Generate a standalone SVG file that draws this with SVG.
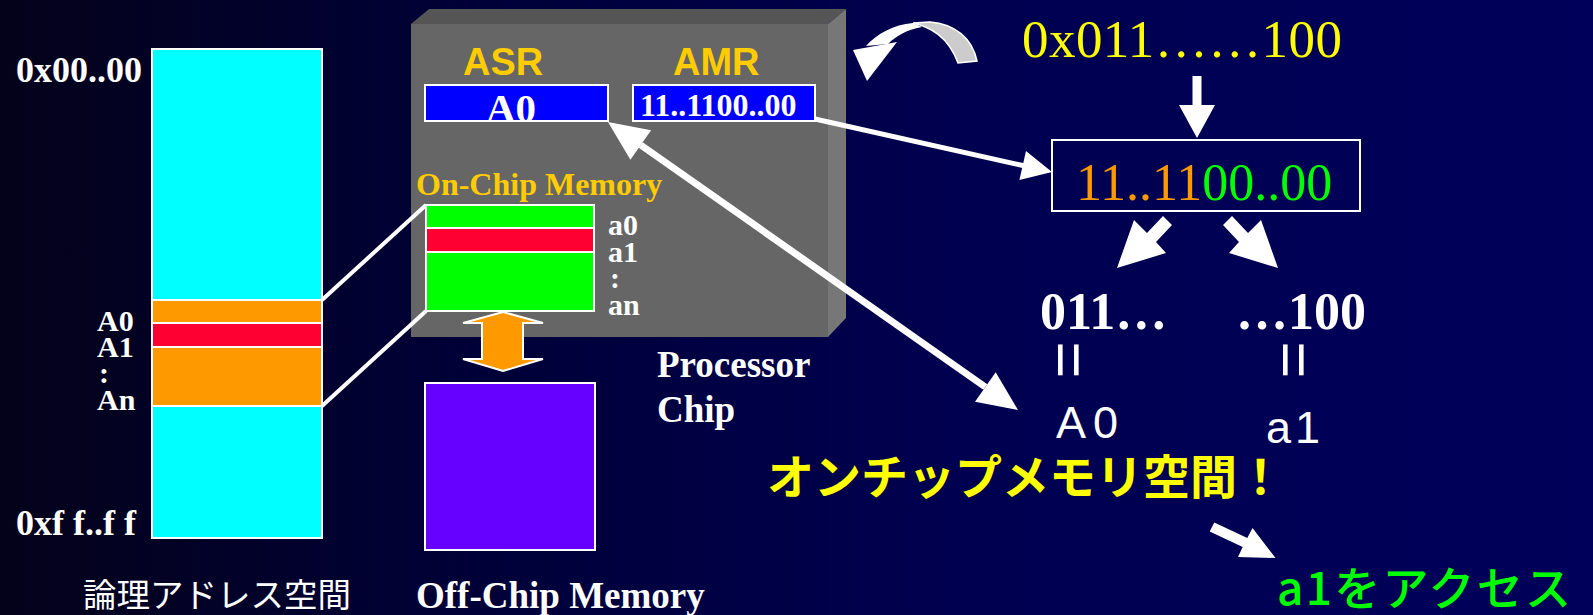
<svg xmlns="http://www.w3.org/2000/svg" width="1593" height="615" viewBox="0 0 1593 615">
<defs>
<linearGradient id="bg" x1="0" y1="0" x2="1" y2="0">
<stop offset="0" stop-color="#04021a"/>
<stop offset="0.3" stop-color="#000038"/>
<stop offset="0.6" stop-color="#000050"/>
<stop offset="1" stop-color="#00005a"/>
</linearGradient>
<style>
.ser{font-family:"Liberation Serif","Times New Roman",serif;font-weight:bold;fill:#fff}
.serR{font-family:"Liberation Serif","Times New Roman",serif;font-weight:normal}
.san{font-family:"Liberation Sans",Arial,sans-serif}
.jp{font-family:"Noto Sans CJK JP","Liberation Sans",sans-serif}
.wb{stroke:#fff;stroke-width:2}
.wl{stroke:#fff;fill:none}
.wf{fill:#fff}
</style>
</defs>
<rect x="0" y="0" width="1593" height="615" fill="url(#bg)"/>

<g id="logical-space">
<rect x="152" y="49" width="170" height="489" fill="#00ffff" class="wb"/>
<rect x="152" y="300" width="170" height="23" fill="#ff9900" class="wb"/>
<rect x="152" y="323" width="170" height="24" fill="#ff0033" class="wb"/>
<rect x="152" y="347" width="170" height="59" fill="#ff9900" class="wb"/>
<text class="ser" x="16" y="82" font-size="36">0x00..00</text>
<text class="ser" x="97" y="331" font-size="30">A0</text>
<text class="ser" x="97" y="357" font-size="30">A1</text>
<text class="ser" x="99" y="383" font-size="30">:</text>
<text class="ser" x="97" y="410" font-size="30">An</text>
<text class="ser" x="16" y="535" font-size="36">0xf f..f f</text>
<text class="jp" x="83" y="607" font-size="33.5" fill="#fff" textLength="268">論理アドレス空間</text>
</g>

<g id="processor-chip">
<polygon points="411,24 429,9 846,9 828,24" fill="#555555"/>
<polygon points="828,24 846,9 846,318 828,337" fill="#777777"/>
<rect x="411" y="24" width="417" height="313" fill="#666666"/>
<text class="ser" x="657" y="377" font-size="37">Processor</text>
<text class="ser" x="657" y="422" font-size="37">Chip</text>
</g>

<g id="asr">
<text class="san" x="463" y="75" font-size="38" font-weight="bold" fill="#ffcc00">ASR</text>
<rect x="425" y="85" width="183" height="36" fill="#0000ff" class="wb"/>
<text class="ser" x="511" y="122" font-size="41" text-anchor="middle">A0</text>
</g>

<g id="amr">
<text class="san" x="673" y="75" font-size="38" font-weight="bold" fill="#ffcc00">AMR</text>
<rect x="633" y="85" width="182" height="36" fill="#0000ff" class="wb"/>
<text class="ser" x="640" y="116" font-size="32">11..1100..00</text>
</g>

<g id="on-chip-memory">
<text class="ser" x="416" y="195" font-size="32" style="fill:#ffcc00">On-Chip Memory</text>
<rect x="426" y="205" width="168" height="23" fill="#00ff00" class="wb"/>
<rect x="426" y="228" width="168" height="24" fill="#ff0033" class="wb"/>
<rect x="426" y="252" width="168" height="59" fill="#00ff00" class="wb"/>
<text class="ser" x="608" y="235" font-size="30">a0</text>
<text class="ser" x="608" y="262" font-size="30">a1</text>
<text class="ser" x="610" y="288" font-size="30">:</text>
<text class="ser" x="608" y="315" font-size="30">an</text>
</g>

<g id="off-chip-memory">
<rect x="425" y="383" width="170" height="167" fill="#6600ff" class="wb"/>
<text class="ser" x="416" y="608" font-size="37">Off-Chip Memory</text>
</g>

<g id="address">
<text class="serR" x="1022" y="57" font-size="53" fill="#ffff00" textLength="320">0x011……100</text>
</g>

<g id="split-box">
<rect x="1052" y="140" width="308" height="71" fill="none" class="wb"/>
<text class="serR" x="1076" y="200" font-size="52"><tspan fill="#ff9900">11..11</tspan><tspan fill="#00ff00">00..00</tspan></text>
</g>

<g id="parts">
<text class="ser" x="1040" y="329" font-size="52">011…</text>
<text class="ser" x="1236" y="329" font-size="52">…100</text>
<text class="san" font-size="63" fill="#fff" transform="translate(1046.5,341.5) rotate(90)">=</text>
<text class="san" font-size="63" fill="#fff" transform="translate(1271.5,341.5) rotate(90)">=</text>
<text class="san" x="1056" y="438" font-size="45" fill="#fff" letter-spacing="7">A0</text>
<text class="san" x="1266" y="443" font-size="45" fill="#fff" letter-spacing="4">a1</text>
</g>

<g id="messages">
<text class="jp" x="767" y="494" font-size="47" font-weight="bold" fill="#ffff00" textLength="517">オンチップメモリ空間！</text>
<text class="jp" x="1277" y="605" font-size="46" font-weight="500" fill="#00ff00" textLength="294">a1をアクセス</text>
</g>

<g id="connectors">
<line x1="322" y1="300" x2="426" y2="205" class="wl" stroke-width="4"/>
<line x1="322" y1="406" x2="426" y2="311" class="wl" stroke-width="4"/>
<polygon points="503,312 543,323 523,323 523,359 543,359 503,371 463,359 482,359 482,323 463,323" fill="#ff9900" stroke="#fff" stroke-width="2"/>
<line x1="640.7" y1="145" x2="985.3" y2="387" class="wl" stroke-width="7"/>
<polygon points="608,122 651.1,130.3 630.4,159.7" class="wf"/>
<polygon points="1018,410 975,401.7 995.7,372.3" class="wf"/>
<line x1="815" y1="119" x2="1024" y2="165.8" class="wl" stroke-width="5"/>
<polygon points="1052,172 1019.4,180.1 1026,150.9" class="wf"/>
<polygon points="1192.5,76 1201.5,76 1201.5,105 1215,105 1197,138 1179,105 1192.5,105" class="wf"/>
<polygon points="1163,216 1172,225 1156,242 1166,253 1117,268 1134,220 1147,233" class="wf"/>
<polygon points="1232,216 1223,225 1239,242 1229,253 1278,268 1261,220 1248,233" class="wf"/>
<polygon points="1214.3,522.6 1247.3,538.1 1252.5,528 1275.5,558 1238,557 1242.7,546.9 1209.7,531.4" class="wf"/>
<path d="M977,61 C972,38 955,24 930,22 L913,23 C930,27 948,36 958,63 Z" fill="#cccccc" stroke="#fff" stroke-width="1.5"/>
<path d="M913,23 C893,25 878,33 866,46 L888,44 C896,36 906,30 922,27 Z" class="wf"/>
<polygon points="853,50 897,42 867,81" class="wf"/>
</g>
</svg>
